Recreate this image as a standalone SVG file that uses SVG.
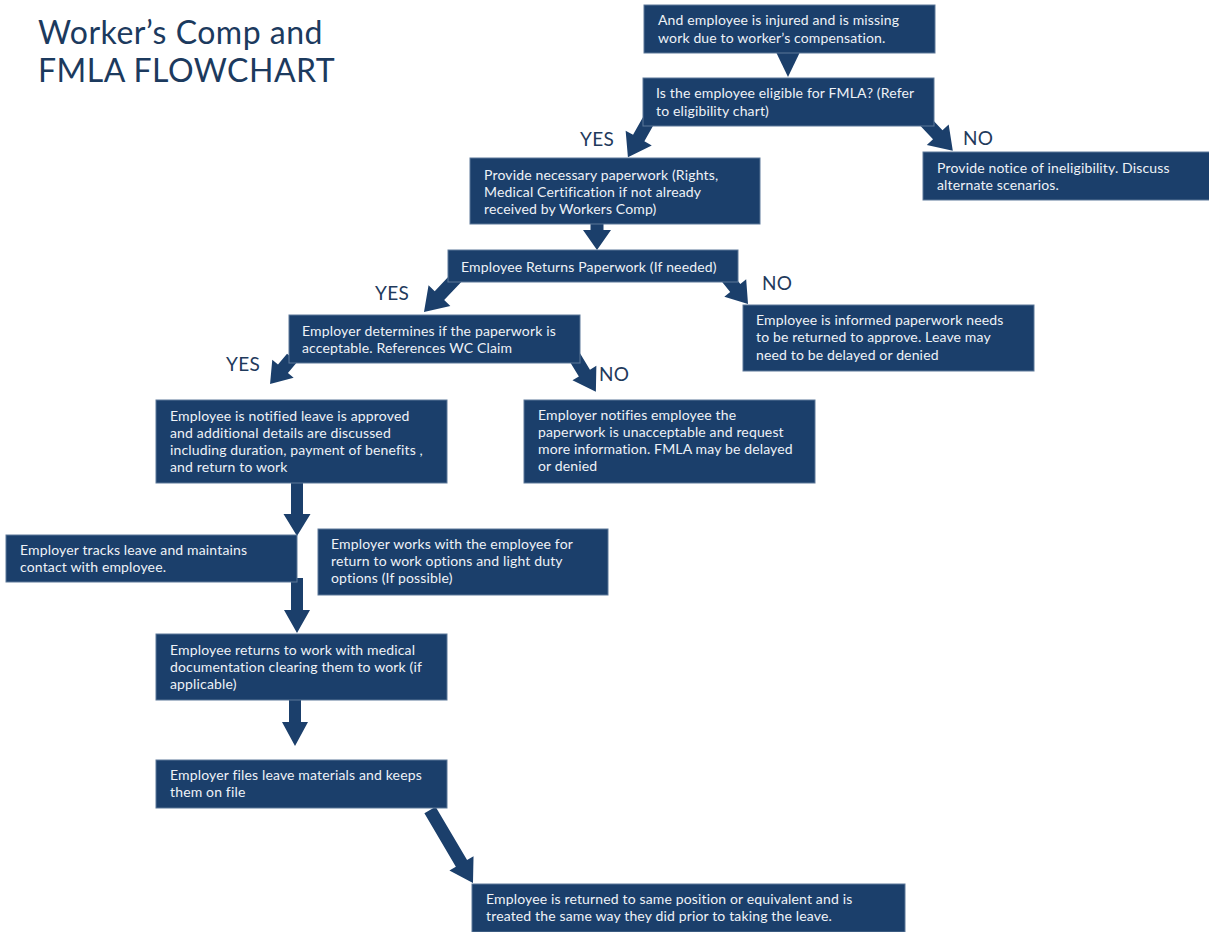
<svg xmlns="http://www.w3.org/2000/svg" width="1209" height="932" viewBox="0 0 1209 932">
<style>
.box{fill:#1b3f6b;stroke:#5d7899;stroke-width:1}
.t{font-family:Lato,"Open Sans",sans-serif;font-size:14px;letter-spacing:0.15px;fill:#eef2f7}
.lbl{font-family:Lato,"Open Sans",sans-serif;font-size:19px;letter-spacing:0.3px;fill:#1f3a5c}
.title{font-family:Lato,"Open Sans",sans-serif;font-size:32px;letter-spacing:0.5px;fill:#1c3a5e}
.arr{fill:#1b3f6b}
</style>
<rect width="1209" height="932" fill="#ffffff"/>
<g id="title">
<text class="title" x="38" y="44">Worker’s Comp and</text>
<text class="title" x="38" y="82">FMLA FLOWCHART</text>
</g>
<g id="connectors">
<polygon class="arr" points="776,52 800,52 788,77"/>
<g transform="translate(650,118) rotate(119.4)"><polygon class="arr" points="0,-6.5 23,-6.5 23,-15 45,0 23,15 23,6.5 0,6.5"/></g>
<g transform="translate(922,118) rotate(46.8)"><polygon class="arr" points="0,-6.5 23,-6.5 23,-15 45,0 23,15 23,6.5 0,6.5"/></g>
<g transform="translate(597,220) rotate(90)"><polygon class="arr" points="0,-6.5 10,-6.5 10,-14 30,0 10,14 10,6.5 0,6.5"/></g>
<g transform="translate(458,276) rotate(133.4)"><polygon class="arr" points="0,-6.5 27,-6.5 27,-15 49.5,0 27,15 27,6.5 0,6.5"/></g>
<g transform="translate(724,274) rotate(51.3)"><polygon class="arr" points="0,-6.5 18,-6.5 18,-14 38.4,0 18,14 18,6.5 0,6.5"/></g>
<g transform="translate(292,358) rotate(130.2)"><polygon class="arr" points="0,-6.5 14,-6.5 14,-14 34,0 14,14 14,6.5 0,6.5"/></g>
<g transform="translate(574,356) rotate(58.6)"><polygon class="arr" points="0,-6.5 20,-6.5 20,-14 42,0 20,14 20,6.5 0,6.5"/></g>
<g transform="translate(297,480) rotate(90)"><polygon class="arr" points="0,-6 34,-6 34,-13.5 56,0 34,13.5 34,6 0,6"/></g>
<g transform="translate(297,578) rotate(90)"><polygon class="arr" points="0,-6 32,-6 32,-13 55,0 32,13 32,6 0,6"/></g>
<g transform="translate(295,696) rotate(90)"><polygon class="arr" points="0,-6 26,-6 26,-13 50,0 26,13 26,6 0,6"/></g>
<g transform="translate(430,810) rotate(59.5)"><polygon class="arr" points="0,-6.5 62,-6.5 62,-14 84.7,0 62,14 62,6.5 0,6.5"/></g>
</g>
<g id="labels">
<text class="lbl" x="580" y="146">YES</text>
<text class="lbl" x="963" y="145">NO</text>
<text class="lbl" x="375" y="300">YES</text>
<text class="lbl" x="762" y="290">NO</text>
<text class="lbl" x="226" y="371">YES</text>
<text class="lbl" x="599" y="381">NO</text>
</g>
<g id="n1"><rect class="box" x="644" y="5" width="291" height="48"/>
<text class="t" x="658" y="25">And employee is injured and is missing</text>
<text class="t" x="658" y="43">work due to worker’s compensation.</text></g>
<g id="n2"><rect class="box" x="643" y="78" width="291" height="48"/>
<text class="t" x="656" y="98">Is the employee eligible for FMLA? (Refer</text>
<text class="t" x="656" y="116">to eligibility chart)</text></g>
<g id="n3"><rect class="box" x="470" y="158" width="290" height="66"/>
<text class="t" x="484" y="180">Provide necessary paperwork (Rights,</text>
<text class="t" x="484" y="197">Medical Certification if not already</text>
<text class="t" x="484" y="214">received by Workers Comp)</text></g>
<g id="n4"><rect class="box" x="923" y="152" width="287" height="48"/>
<text class="t" x="937" y="173">Provide notice of ineligibility. Discuss</text>
<text class="t" x="937" y="190">alternate scenarios.</text></g>
<g id="n5"><rect class="box" x="448" y="250" width="290" height="32"/>
<text class="t" x="461" y="272">Employee Returns Paperwork (If needed)</text></g>
<g id="n6"><rect class="box" x="289" y="315" width="291" height="48"/>
<text class="t" x="302" y="336">Employer determines if the paperwork is</text>
<text class="t" x="302" y="353">acceptable. References WC Claim</text></g>
<g id="n7"><rect class="box" x="743" y="305" width="291" height="66"/>
<text class="t" x="756" y="325">Employee is informed paperwork needs</text>
<text class="t" x="756" y="342">to be returned to approve. Leave may</text>
<text class="t" x="756" y="360">need to be delayed or denied</text></g>
<g id="n8"><rect class="box" x="156" y="400" width="291" height="83"/>
<text class="t" x="170" y="421">Employee is notified leave is approved</text>
<text class="t" x="170" y="438">and additional details are discussed</text>
<text class="t" x="170" y="455">including duration, payment of benefits ,</text>
<text class="t" x="170" y="472">and return to work</text></g>
<g id="n9"><rect class="box" x="524" y="400" width="291" height="83"/>
<text class="t" x="538" y="420">Employer notifies employee the</text>
<text class="t" x="538" y="437">paperwork is unacceptable and request</text>
<text class="t" x="538" y="454">more information. FMLA may be delayed</text>
<text class="t" x="538" y="471">or denied</text></g>
<g id="n10"><rect class="box" x="6" y="535" width="291" height="47"/>
<text class="t" x="20" y="555">Employer tracks leave and maintains</text>
<text class="t" x="20" y="572">contact with employee.</text></g>
<g id="n11"><rect class="box" x="318" y="529" width="290" height="66"/>
<text class="t" x="331" y="549">Employer works with the employee for</text>
<text class="t" x="331" y="566">return to work options and light duty</text>
<text class="t" x="331" y="583">options (If possible)</text></g>
<g id="n12"><rect class="box" x="156" y="634" width="291" height="66"/>
<text class="t" x="170" y="655">Employee returns to work with medical</text>
<text class="t" x="170" y="672">documentation clearing them to work (if</text>
<text class="t" x="170" y="689">applicable)</text></g>
<g id="n13"><rect class="box" x="156" y="760" width="291" height="48"/>
<text class="t" x="170" y="780">Employer files leave materials and keeps</text>
<text class="t" x="170" y="797">them on file</text></g>
<g id="n14"><rect class="box" x="472" y="884" width="433" height="48"/>
<text class="t" x="486" y="904">Employee is returned to same position or equivalent and is</text>
<text class="t" x="486" y="921">treated the same way they did prior to taking the leave.</text></g>
</svg>
